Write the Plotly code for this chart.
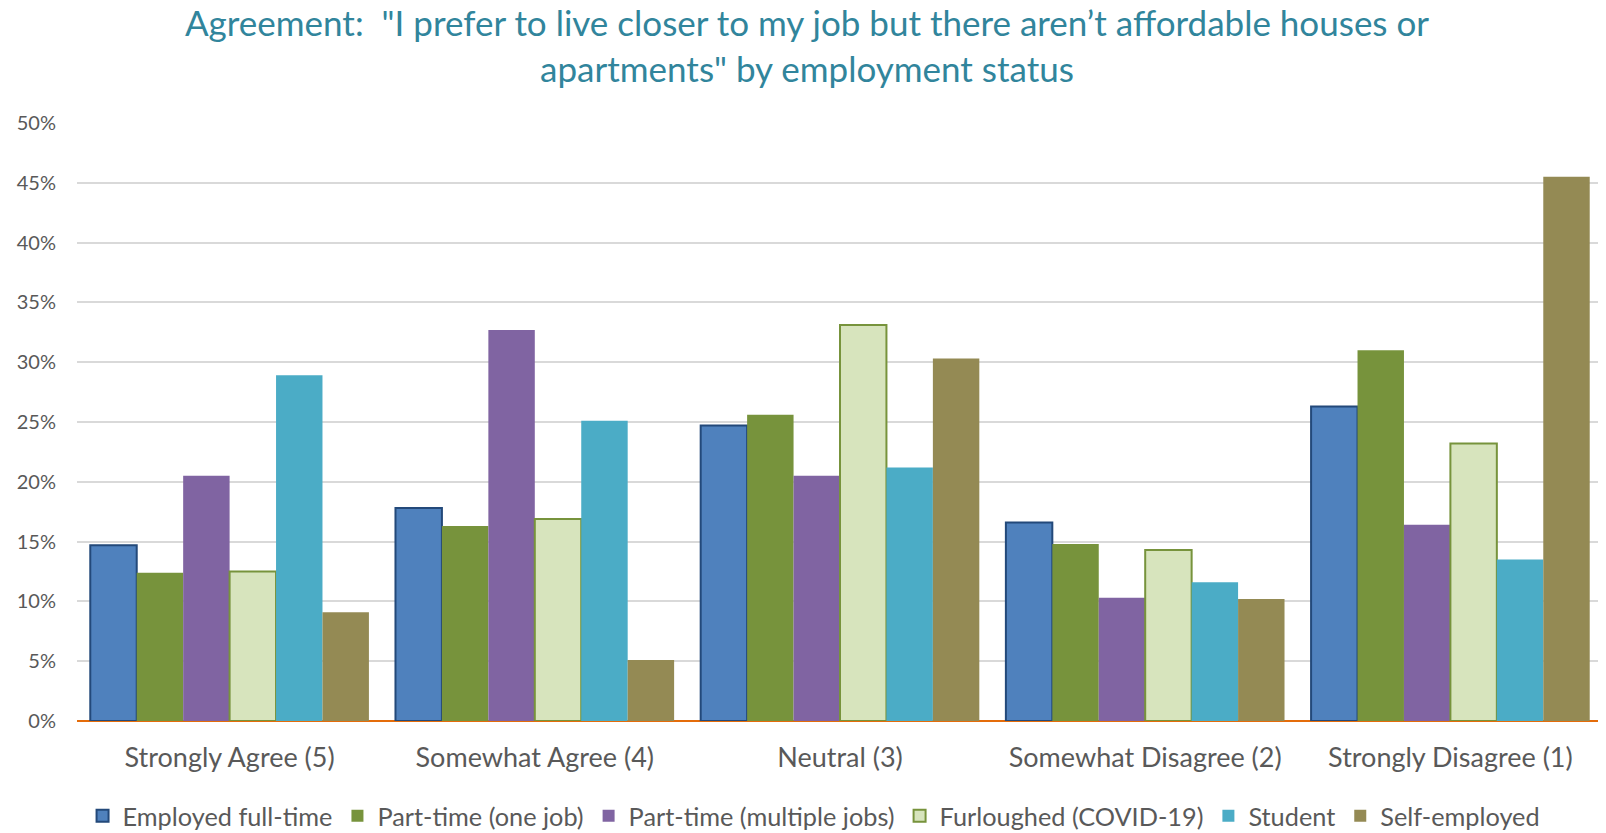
import plotly.graph_objects as go

categories = ["Strongly Agree (5)", "Somewhat Agree (4)", "Neutral (3)",
              "Somewhat Disagree (2)", "Strongly Disagree (1)"]

employed_full_time = [0.147, 0.178, 0.247, 0.166, 0.263]
part_time_one_job = [0.124, 0.163, 0.256, 0.148, 0.310]
part_time_multiple = [0.205, 0.327, 0.205, 0.103, 0.164]
furloughed = [0.125, 0.169, 0.331, 0.143, 0.232]
student = [0.289, 0.251, 0.212, 0.116, 0.135]
self_employed = [0.091, 0.051, 0.303, 0.102, 0.455]

series = [
    ("Employed full-time", employed_full_time, "#4F81BD", "#23497A", 2),
    ("Part-time (one job)", part_time_one_job, "#77933C", "#77933C", 0),
    ("Part-time (multiple jobs)", part_time_multiple, "#8064A2", "#8064A2", 0),
    ("Furloughed (COVID-19)", furloughed, "#D7E4BD", "#77933C", 2),
    ("Student", student, "#4BACC6", "#4BACC6", 0),
    ("Self-employed", self_employed, "#948A54", "#948A54", 0),
]

FONT = "Lato"

fig = go.Figure()
for name, vals, fill, edge, lw in series:
    fig.add_trace(go.Bar(
        name=name, x=categories, y=vals,
        marker=dict(color=fill, line=dict(color=edge, width=lw)),
    ))

# page body adds an 8px margin, so the figure is shifted 8px right/down
fig.update_layout(
    width=1598, height=833,
    barmode="group", bargap=0.087, bargroupgap=0,
    plot_bgcolor="white", paper_bgcolor="white",
    margin=dict(l=69, r=3, t=115, b=119),
    font=dict(family=FONT, color="#595959"),
    title=dict(
        text='Agreement:  "I prefer to live closer to my job but there aren’t affordable houses or<br>apartments" by employment status',
        x=0.5, xanchor="center", y=0.966, yanchor="middle",
        font=dict(family=FONT, size=35, color="#31859C"),
    ),
    legend=dict(
        orientation="h", x=0.483, xanchor="center", y=-0.195, yanchor="bottom",
        font=dict(family=FONT, size=25.3, color="#595959"),
        itemwidth=30, traceorder="normal",
    ),
    xaxis=dict(
        tickfont=dict(family=FONT, size=27, color="#595959"),
        showline=False, ticks="", ticklabelstandoff=18,
    ),
    yaxis=dict(
        range=[0, 0.5], dtick=0.05, tickformat=".0%",
        tickfont=dict(family=FONT, size=20, color="#595959"),
        gridcolor="#D9D9D9", gridwidth=2,
        zeroline=True, zerolinecolor="#E46C0A", zerolinewidth=2,
        ticks="", ticklabelstandoff=20,
    ),
)

fig.write_html("out.html")
